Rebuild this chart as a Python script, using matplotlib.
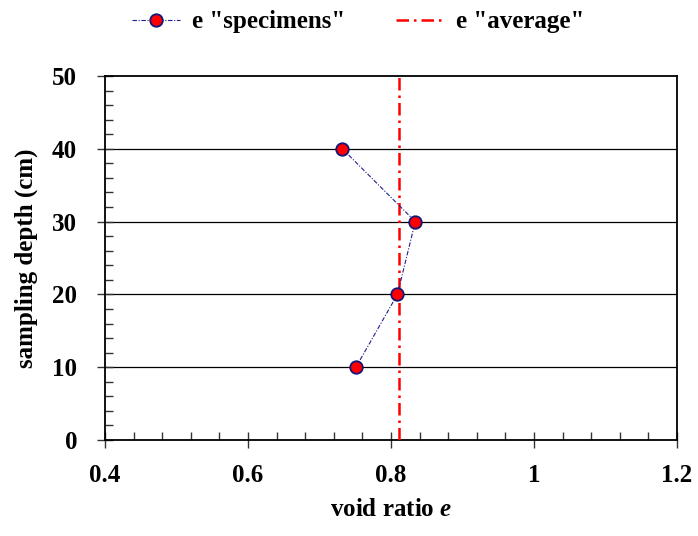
import matplotlib
matplotlib.use("Agg")
import matplotlib.pyplot as plt
from matplotlib.ticker import MultipleLocator, FuncFormatter

# values
depth_cm = [40, 30, 20, 10]
void_ratio = [0.732, 0.834, 0.809, 0.751]
void_ratio_avg = 0.811

x_ticks = [0.4, 0.6, 0.8, 1.0, 1.2]
y_ticks = [0, 10, 20, 30, 40, 50]

plt.rcParams["font.family"] = ["Liberation Serif", "DejaVu Serif"]
plt.rcParams["font.weight"] = "bold"
plt.rcParams["mathtext.fontset"] = "custom"
plt.rcParams["mathtext.it"] = "Liberation Serif:italic:bold"
plt.rcParams["mathtext.rm"] = "Liberation Serif:bold"

fig = plt.figure(figsize=(6.98, 5.36), dpi=100)
ax = fig.add_axes([0.1504, 0.1791, 0.8195, 0.6791])

ax.plot(void_ratio, depth_cm, color="#1f1f8f", lw=0.8, ls=(0, (4, 1.5, 1, 1.5)),
        marker="o", ms=9, mfc="red", mec="#15157a", mew=1.3,
        label='e "specimens"', zorder=4)
ax.axvline(void_ratio_avg, color="red", lw=1.8, ls=(0, (5, 2, 1, 2)),
           label='e "average"', zorder=3)

for y in y_ticks[1:-1]:
    ax.axhline(y, color="black", lw=0.9, zorder=1)

ax.set_xlim(0.4, 1.2)
ax.set_ylim(0, 50)
ax.set_xticks(x_ticks)
ax.set_yticks(y_ticks)
ax.xaxis.set_minor_locator(MultipleLocator(0.04))
ax.yaxis.set_minor_locator(MultipleLocator(2))
ax.xaxis.set_major_formatter(FuncFormatter(lambda v, _: f"{v:g}"))

ax.tick_params(which="major", direction="inout", length=12, width=1,
               labelsize=18, color="#333333")
ax.tick_params(axis="x", which="major", pad=11)
ax.tick_params(axis="y", which="major", pad=14)
ax.tick_params(which="minor", direction="in", length=5.8, width=1, color="#333333")
for lab in ax.get_xticklabels() + ax.get_yticklabels():
    lab.set_fontweight("bold")

for sp in ax.spines.values():
    sp.set_linewidth(1.3)
    sp.set_color("black")

ax.set_xlabel("void ratio $e$", fontsize=18, fontweight="bold", labelpad=8)
ax.set_ylabel("sampling depth (cm)", fontsize=18, fontweight="bold", labelpad=10)

leg = fig.legend(loc="center", bbox_to_anchor=(0.513, 0.959), ncol=2, frameon=False,
                 fontsize=18, handlelength=1.9, columnspacing=2.0, handletextpad=0.5,
                 borderpad=0, borderaxespad=0)
for t in leg.get_texts():
    t.set_fontweight("bold")

fig.savefig("out.png", dpi=100)
